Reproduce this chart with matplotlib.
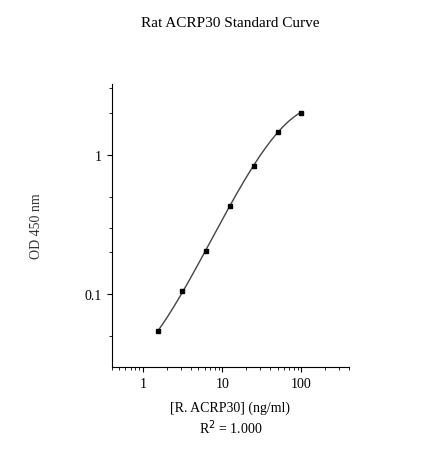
import numpy as np
import matplotlib
matplotlib.use("Agg")
import matplotlib.pyplot as plt
from matplotlib.ticker import LogLocator, FixedLocator, NullFormatter

conc = [1.5625, 3.125, 6.25, 12.5, 25, 50, 100]
od = [0.0545, 0.105, 0.205, 0.425, 0.834, 1.46, 2.0]

plt.rcParams['font.family'] = ['Liberation Serif', 'DejaVu Serif']
fig = plt.figure(figsize=(4.39, 4.6), dpi=100)
ax = fig.add_axes([0.254, 0.2, 0.541, 0.615])
lx, ly = np.log10(conc), np.log10(od)
c = np.polyfit(lx, ly, 3)
xs = np.linspace(lx[0], lx[-1], 200)
ax.plot(10**xs, 10**np.polyval(c, xs), color='#444444', lw=1)
ax.plot(conc, od, 's', color='black', ms=3.5)
ax.set_xscale('log'); ax.set_yscale('log')
ax.set_xlim(0.4, 400); ax.set_ylim(0.03, 3.2)
for s in ['top', 'right']:
    ax.spines[s].set_visible(False)
ax.xaxis.set_major_locator(FixedLocator([1, 10, 100]))
ax.set_xticklabels(['1', '10', '100'])
ax.yaxis.set_major_locator(FixedLocator([0.1, 1]))
ax.set_yticklabels(['0.1', '1'])
ax.xaxis.set_minor_locator(LogLocator(subs=np.arange(2, 10)))
ax.yaxis.set_minor_locator(FixedLocator([0.05, 0.2, 0.3, 0.5, 2, 3]))
ax.xaxis.set_minor_formatter(NullFormatter()); ax.yaxis.set_minor_formatter(NullFormatter())
ax.tick_params(labelsize=10, direction='out')
ax.set_title('Rat ACRP30 Standard Curve', fontsize=11, pad=42)
ax.set_ylabel('OD 450 nm', fontsize=10, color='#333333', labelpad=30)
ax.set_xlabel('[R. ACRP30] (ng/ml)\nR$^2$ = 1.000', fontsize=10, labelpad=8)
fig.savefig('out.png', dpi=100)
